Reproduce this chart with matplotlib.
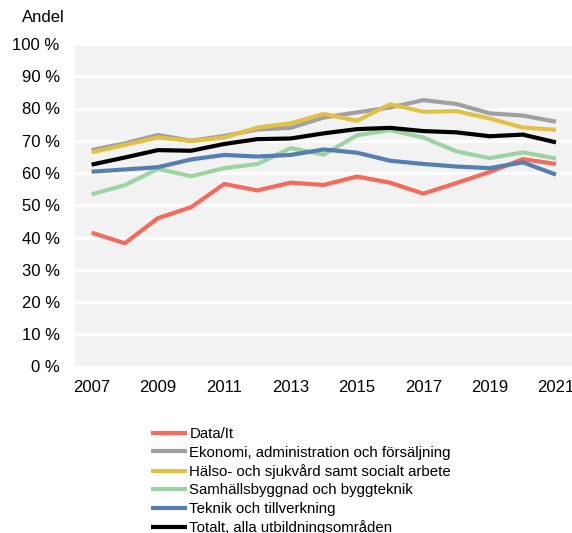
import matplotlib.pyplot as plt
from matplotlib.ticker import FuncFormatter

plt.rcParams["font.family"] = ["Liberation Sans", "DejaVu Sans"]

years = list(range(2007, 2022))

data_it = [41.5, 38.2, 46.0, 49.4, 56.6, 54.6, 57.0, 56.3, 58.9, 57.0, 53.6, 56.9, 60.3, 64.3, 62.8]
ekonomi = [67.1, 69.2, 71.8, 70.0, 71.5, 73.5, 74.0, 77.2, 78.8, 80.3, 82.6, 81.4, 78.5, 77.8, 75.9]
halso = [66.4, 68.7, 71.0, 69.9, 71.0, 74.1, 75.4, 78.3, 76.2, 81.3, 79.0, 79.2, 76.9, 74.1, 73.4]
samhalle = [53.4, 56.2, 61.3, 59.0, 61.5, 62.8, 67.7, 65.7, 71.7, 73.3, 71.0, 66.7, 64.6, 66.4, 64.5]
teknik = [60.4, 61.1, 61.8, 64.2, 65.6, 65.1, 65.6, 67.3, 66.3, 63.8, 62.8, 62.0, 61.5, 63.3, 59.5]
totalt = [62.6, 64.8, 67.1, 66.9, 69.0, 70.5, 70.7, 72.3, 73.6, 74.0, 73.0, 72.6, 71.4, 71.9, 69.5]

series = [
    ("Data/It", data_it, "#f26b5b"),
    ("Ekonomi, administration och försäljning", ekonomi, "#a0a0a0"),
    ("Hälso- och sjukvård samt socialt arbete", halso, "#e2c048"),
    ("Samhällsbyggnad och byggteknik", samhalle, "#9dd3a2"),
    ("Teknik och tillverkning", teknik, "#557eb1"),
    ("Totalt, alla utbildningsområden", totalt, "#000000"),
]

fig = plt.figure(figsize=(5.72, 5.33), dpi=100)
ax = fig.add_axes([75 / 572, 1 - 366.5 / 533, 497.6 / 572, 322.5 / 533])
ax.set_facecolor("#f2f2f2")

for label, values, color in series:
    ax.plot(years, values, color=color, linewidth=3, label=label,
            solid_capstyle="butt", zorder=3)

ax.set_xlim(2006.5, 2021.5)
ax.set_ylim(0, 100)
ax.set_xticks(range(2007, 2022, 2))
ax.set_yticks(range(0, 101, 10))
ax.yaxis.set_major_formatter(FuncFormatter(lambda v, p: f"{int(v)} %"))
ax.grid(axis="y", color="white", linewidth=2, zorder=1)
ax.set_axisbelow(True)
for s in ax.spines.values():
    s.set_visible(False)
ax.tick_params(length=0, labelsize=12, pad=10)
ax.tick_params(axis="y", pad=11)

fig.text(22 / 572, 1 - 18 / 533, "Andel", fontsize=12, va="center", ha="left")

fig.legend(loc="upper left", bbox_to_anchor=(151 / 572, 1 - 427 / 533),
           frameon=False, fontsize=10.8, handlelength=2.4, handletextpad=0.15,
           labelspacing=0.3, borderpad=0, borderaxespad=0)

fig.savefig("out.png", dpi=100)
